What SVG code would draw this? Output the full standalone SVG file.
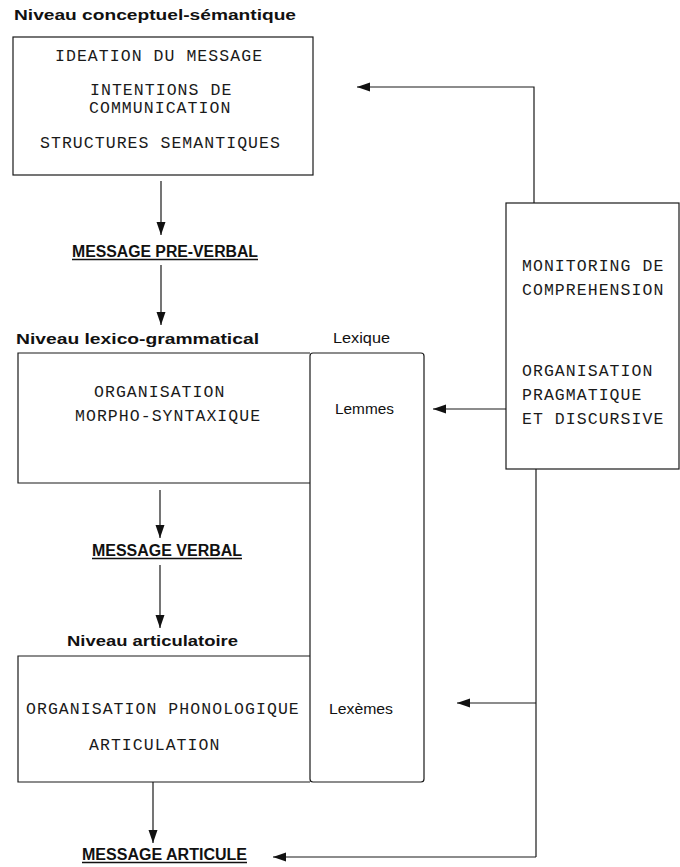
<svg xmlns="http://www.w3.org/2000/svg" width="680" height="867" viewBox="0 0 680 867">
<style>
.bx{fill:none;stroke:#1a1a1a;stroke-width:1.2}
.ln{fill:none;stroke:#1a1a1a;stroke-width:1.2}
.mono{font-family:"Courier New","Liberation Mono",monospace;font-size:16.5px;letter-spacing:1.05px;fill:#1a1a1a}
.hd{font-family:"Liberation Sans",Arial,sans-serif;font-weight:bold;font-size:14.5px;fill:#111}
.msg{font-family:"Liberation Sans",Arial,sans-serif;font-weight:bold;font-size:16px;fill:#111}
.lx{font-family:"Liberation Sans",Arial,sans-serif;font-size:14px;fill:#111}
.ul{stroke:#111;stroke-width:1.5}
</style>
<defs>
<marker id="ah" markerUnits="userSpaceOnUse" markerWidth="14" markerHeight="10" refX="13" refY="4.5" orient="auto">
<path d="M0,0 L13,4.5 L0,9 z" fill="#111"/>
</marker>
</defs>
<rect width="680" height="867" fill="#fff"/>

<g id="title-conceptuel">
<text class="hd" x="14" y="20" textLength="282" lengthAdjust="spacingAndGlyphs">Niveau conceptuel-sémantique</text>
</g>

<g id="box-conceptuel">
<rect class="bx" x="13" y="37" width="300" height="138"/>
<text class="mono" x="55" y="61">IDEATION DU MESSAGE</text>
<text class="mono" x="90" y="95">INTENTIONS DE</text>
<text class="mono" x="89" y="113">COMMUNICATION</text>
<text class="mono" x="40" y="148">STRUCTURES SEMANTIQUES</text>
</g>

<g id="msg-preverbal">
<text class="msg" x="72" y="257" textLength="186" lengthAdjust="spacingAndGlyphs">MESSAGE PRE-VERBAL</text>
<line class="ul" x1="72" y1="259.5" x2="258" y2="259.5"/>
</g>

<g id="title-lexico">
<text class="hd" x="16" y="344" textLength="243" lengthAdjust="spacingAndGlyphs">Niveau lexico-grammatical</text>
</g>

<g id="box-morpho">
<path class="bx" d="M310,353 H18 V483 H310"/>
<text class="mono" x="94" y="397">ORGANISATION</text>
<text class="mono" x="75" y="421">MORPHO-SYNTAXIQUE</text>
</g>

<g id="lexique">
<text class="lx" x="333" y="343" textLength="57" lengthAdjust="spacingAndGlyphs">Lexique</text>
<rect class="bx" x="310" y="353" width="114" height="429" rx="3" ry="3"/>
<text class="lx" x="335" y="414" textLength="59" lengthAdjust="spacingAndGlyphs">Lemmes</text>
<text class="lx" x="329" y="714" textLength="64" lengthAdjust="spacingAndGlyphs">Lexèmes</text>
</g>

<g id="msg-verbal">
<text class="msg" x="92" y="556" textLength="150" lengthAdjust="spacingAndGlyphs">MESSAGE VERBAL</text>
<line class="ul" x1="92" y1="558.5" x2="242" y2="558.5"/>
</g>

<g id="title-articulatoire">
<text class="hd" x="67" y="646" textLength="171" lengthAdjust="spacingAndGlyphs">Niveau articulatoire</text>
</g>

<g id="box-phono">
<path class="bx" d="M310,656 H18 V782 H310"/>
<text class="mono" x="26" y="714">ORGANISATION PHONOLOGIQUE</text>
<text class="mono" x="89" y="750">ARTICULATION</text>
</g>

<g id="msg-articule">
<text class="msg" x="82" y="860" textLength="165" lengthAdjust="spacingAndGlyphs">MESSAGE ARTICULE</text>
<line class="ul" x1="82" y1="862.5" x2="247" y2="862.5"/>
</g>

<g id="box-monitoring">
<rect class="bx" x="506" y="203" width="173" height="266"/>
<text class="mono" x="522" y="271">MONITORING DE</text>
<text class="mono" x="522" y="295">COMPREHENSION</text>
<text class="mono" x="522" y="376">ORGANISATION</text>
<text class="mono" x="522" y="400">PRAGMATIQUE</text>
<text class="mono" x="522" y="424">ET DISCURSIVE</text>
</g>

<g id="connectors">
<line class="ln" x1="161" y1="181" x2="161" y2="235" marker-end="url(#ah)"/>
<line class="ln" x1="161" y1="265" x2="161" y2="325" marker-end="url(#ah)"/>
<line class="ln" x1="160" y1="490" x2="160" y2="538" marker-end="url(#ah)"/>
<line class="ln" x1="160" y1="565" x2="160" y2="628" marker-end="url(#ah)"/>
<line class="ln" x1="153" y1="782" x2="153" y2="843" marker-end="url(#ah)"/>
<polyline class="ln" points="534,203 534,87 357,87" marker-end="url(#ah)"/>
<line class="ln" x1="506" y1="409" x2="433" y2="409" marker-end="url(#ah)"/>
<line class="ln" x1="536" y1="469" x2="536" y2="857"/>
<line class="ln" x1="536" y1="703" x2="457" y2="703" marker-end="url(#ah)"/>
<line class="ln" x1="536" y1="857" x2="273" y2="857" marker-end="url(#ah)"/>
</g>
</svg>
